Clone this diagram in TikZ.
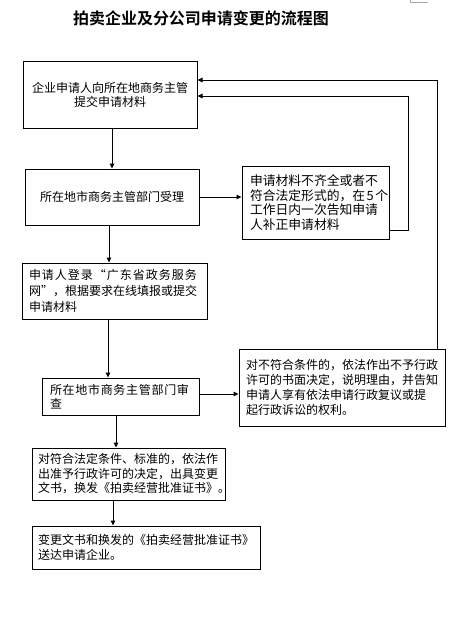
\documentclass[tikz,border=0pt]{standalone}
\usepackage{fontspec}
\setmainfont{Noto Sans CJK SC}[BoldFont={Noto Sans CJK SC Bold}]
\usetikzlibrary{arrows.meta}
\begin{document}
\begin{tikzpicture}[x=1pt,y=-1pt,
  box/.style={draw=black,line width=1pt,inner ysep=0pt,font=\fontsize{12}{15}\selectfont},
  lbox/.style={box,align=left},
  cbox/.style={box,align=center},
  arr/.style={line width=1pt,-{Triangle[length=5pt,width=4.5pt]}},
  fb/.style={line width=1pt,-{Triangle[length=5pt,width=4.5pt]}}]
\useasboundingbox (0,0) rectangle (464,627);
\fill[white] (0,0) rectangle (464,627);
\draw[gray!70,line width=0.8pt] (410,0) -- (410,2) -- (428,2);
\node[font=\fontsize{16}{18}\bfseries] (title) at (201,18) {拍卖企业及分公司申请变更的流程图};
% boxes
\node[cbox,minimum width=174pt,minimum height=67pt,text width=164pt,inner xsep=5pt,font=\fontsize{12}{14}\selectfont] (b1) at (110,94.5)
  {企业申请人向所在地商务主管\\提交申请材料};
\node[cbox,minimum width=174pt,minimum height=56pt,text width=164pt,inner xsep=5pt] (b2) at (112,197)
  {所在地市商务主管部门受理};
\node[lbox,minimum width=147pt,minimum height=73pt,text width=135pt,inner xsep=6pt,font=\fontsize{12.8}{14.7}\selectfont] (b3) at (315.5,202.5)
  {\hspace*{2pt}申请材料不齐全或者不\\\hspace*{2pt}符合法定形式的，在\mbox{\hspace{1.5pt}5\hspace{1.5pt}}个\\\hspace*{2pt}工作日内一次告知申请\\\hspace*{2pt}人补正申请材料};
\node[lbox,minimum width=185pt,minimum height=56pt,text width=171pt,inner xsep=7pt,font=\fontsize{12}{16}\selectfont] (b4) at (114.5,291)
  {{\addfontfeature{LetterSpace=8.3}申请人登录“广东省政务服务}\\网”，根据要求在线填报或提交\\申请材料};
\node[lbox,minimum width=157pt,minimum height=37pt,text width=141pt,inner xsep=8pt,font=\fontsize{12}{14}\selectfont] (b6) at (120.5,396.5)
  {{\addfontfeature{LetterSpace=5.8}所在地市商务主管部门审}\\查};
\node[lbox,minimum width=206pt,minimum height=77pt,text width=192pt,inner xsep=7pt] (b5) at (342,387.5)
  {对不符合条件的，依法作出不予行政\\许可的书面决定，说明理由，并告知\\申请人享有依法申请行政复议或提\\起行政诉讼的权利。};
\node[lbox,minimum width=193pt,minimum height=52pt,text width=181pt,inner xsep=6pt,font=\fontsize{12}{14.5}\selectfont] (b7) at (128.5,474)
  {对符合法定条件、标准的，依法作\\出准予行政许可的决定，出具变更\\文书，换发《拍卖经营批准证书》。};
\node[lbox,minimum width=228pt,minimum height=43pt,text width=216pt,inner xsep=6pt] (b8) at (146,547.5)
  {变更文书和换发的《拍卖经营批准证书》\\送达申请企业。};
% connectors
\draw[arr] (b1.south -| 112,0) -- (b2.north -| 112,0);
\draw[arr] (b2.east) -- (b2.east -| b3.west);
\draw[arr] (b2.south -| 109,0) -- (b4.north -| 109,0);
\draw[arr] (b4.south -| 108,0) -- (b6.north -| 108,0);
\draw[arr] (b6.east |- 0,394) -- (b5.west |- 0,394);
\draw[arr] (b6.south -| 116,0) -- (b7.north -| 116,0);
\draw[arr] (b7.south -| 113,0) -- (b8.north -| 113,0);
\draw[fb] (b3.east |- 0,230) -- (408,230) -- (408,96) -- (b1.east |- 0,96);
\draw[fb] (b5.north -| 437,0) -- (437,80) -- (b1.east |- 0,80);
\end{tikzpicture}
\end{document}
